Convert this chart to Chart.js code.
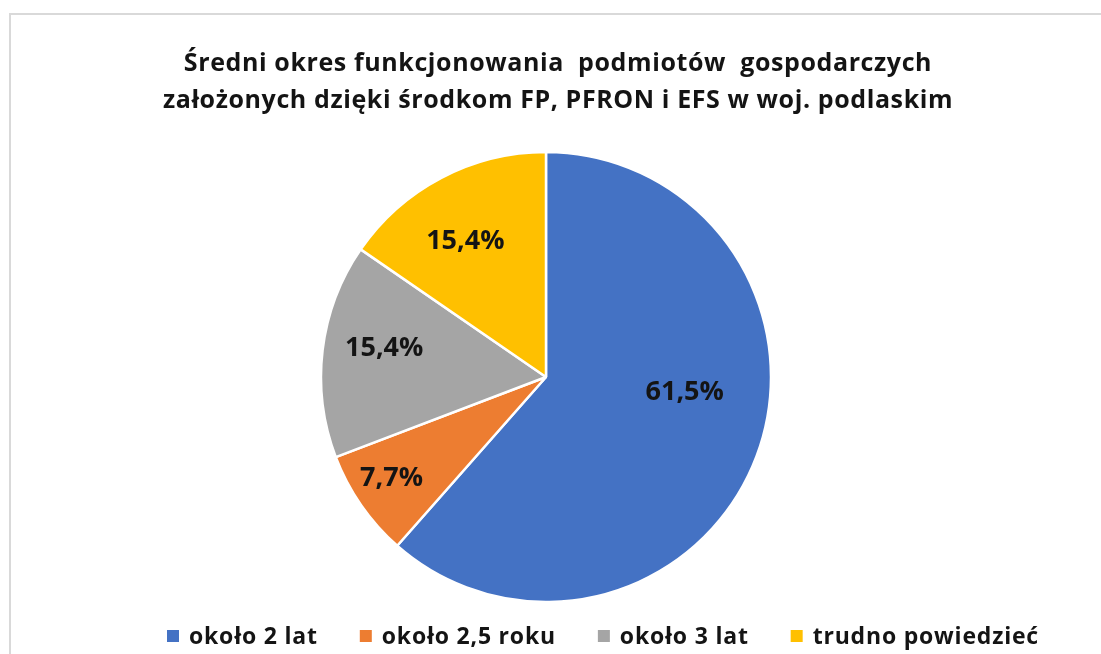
<!DOCTYPE html>
<html>
<head>
<meta charset="utf-8">
<script src="https://cdn.jsdelivr.net/npm/chart.js@4.4.1/dist/chart.umd.min.js"></script>
<style>
  html, body { margin: 0; padding: 0; background: #ffffff; }
  #wrap { width: 1101px; height: 654px; position: relative; }
</style>
</head>
<body>
<div id="wrap"><canvas id="c" width="1101" height="654"></canvas></div>
<script>
// ---- data ----
const titleLines = [
  'Średni okres funkcjonowania  podmiotów  gospodarczych',
  'założonych dzięki środkom FP, PFRON i EFS w woj. podlaskim'
];
const categories = ['około 2 lat', 'około 2,5 roku', 'około 3 lat', 'trudno powiedzieć'];
const shares = [61.5, 7.7, 15.4, 15.4];
const valueLabels = ['61,5%', '7,7%', '15,4%', '15,4%'];

// ---- styles ----
const sliceColors = ['#4472C4', '#ED7D31', '#A5A5A5', '#FFC000'];
const FONT = '"Open Sans", Lato, sans-serif';
const textColor = '#141414';
// label placement: fraction of radius and angular shift (deg) from slice middle
const labelRadiusFrac = [0.62, 0.82, 0.73, 0.70];
const labelAngleShift = [-14.5, 1.6, 3.1, -3.1];

function setSpacing(ctx, v) { if ('letterSpacing' in ctx) ctx.letterSpacing = v; }

const decorPlugin = {
  id: 'decor',
  beforeDraw(chart) {
    const ctx = chart.ctx;
    ctx.save();
    ctx.fillStyle = '#ffffff';
    ctx.fillRect(0, 0, chart.width, chart.height);
    ctx.strokeStyle = '#d9d9d9';
    ctx.lineWidth = 2;
    ctx.strokeRect(10, 14, 1300, 900);
    ctx.restore();
  },
  afterDraw(chart) {
    const ctx = chart.ctx;
    ctx.save();
    // title
    ctx.fillStyle = textColor;
    ctx.font = 'bold 25px ' + FONT;
    setSpacing(ctx, '0.6px');
    ctx.textAlign = 'center';
    ctx.textBaseline = 'alphabetic';
    ctx.fillText(titleLines[0], 558, 71);
    ctx.fillText(titleLines[1], 558, 108);

    // data labels
    const meta = chart.getDatasetMeta(0);
    ctx.font = 'bold 27px ' + FONT;
    setSpacing(ctx, '0px');
    ctx.textBaseline = 'middle';
    meta.data.forEach((arc, i) => {
      const mid = (arc.startAngle + arc.endAngle) / 2 + labelAngleShift[i] * Math.PI / 180;
      const r = arc.outerRadius * labelRadiusFrac[i];
      ctx.fillText(valueLabels[i], arc.x + Math.cos(mid) * r, arc.y + Math.sin(mid) * r);
    });

    // legend
    ctx.font = 'bold 23px ' + FONT;
    setSpacing(ctx, '0.8px');
    ctx.textAlign = 'left';
    ctx.textBaseline = 'alphabetic';
    let x = 167;
    categories.forEach((name, i) => {
      ctx.fillStyle = sliceColors[i];
      ctx.fillRect(x, 630, 12, 12);
      ctx.fillStyle = textColor;
      ctx.fillText(name, x + 22, 644);
      x += 22 + ctx.measureText(name).width + 42;
    });
    ctx.restore();
  }
};

new Chart(document.getElementById('c'), {
  type: 'pie',
  data: {
    labels: categories,
    datasets: [{
      data: shares,
      backgroundColor: sliceColors,
      borderColor: '#ffffff',
      borderWidth: 2.5,
      hoverOffset: 0,
      radius: 225
    }]
  },
  options: {
    responsive: false,
    animation: false,
    layout: { padding: { left: 0, right: 9, top: 150, bottom: 50 } },
    plugins: {
      legend: { display: false },
      title: { display: false },
      tooltip: { enabled: false }
    }
  },
  plugins: [decorPlugin]
});
</script>
</body>
</html>
